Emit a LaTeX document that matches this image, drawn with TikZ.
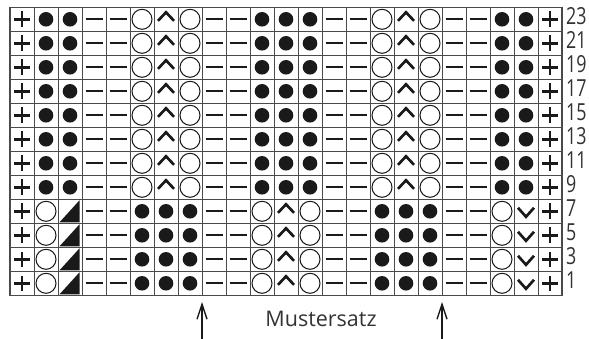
\documentclass[tikz,border=0pt]{standalone}
\usepackage{fontspec}
\setmainfont{Open Sans}
\usetikzlibrary{arrows.meta}
\definecolor{gridgray}{HTML}{4A4A4A}
\definecolor{inkblack}{HTML}{1A1A1A}
\definecolor{txtgray}{HTML}{333333}
\tikzset{
  gridline/.style={draw=gridgray, line width=1pt},
  borderline/.style={draw=gridgray, line width=1.2pt},
  symthick/.style={draw=inkblack, line width=2.7pt},
  symthin/.style={draw=inkblack, line width=1pt},
  symfill/.style={fill=inkblack},
  numlabel/.style={text=txtgray, font=\fontsize{23.5}{24}\selectfont, inner sep=0pt, anchor=base west},
  repeatlabel/.style={text=txtgray, font=\fontsize{21.5}{22}\selectfont, inner sep=0pt, anchor=base},
  repeatarrow/.style={draw=inkblack, line width=1.6pt, -{Straight Barb[length=15pt,width=10pt,line width=1.4pt]}}
}
% symbol macros, drawn in a scope shifted to the cell centre
\newcommand\symP{\draw[symthick] (-7.8,0)--(7.8,0) (0,-7.8)--(0,7.8);}
\newcommand\symF{\fill[symfill] (0,0) circle (7.3);}
\newcommand\symO{\draw[symthin] (0,0) circle (10);}
\newcommand\symD{\draw[symthick] (-8.5,-0.3)--(8.5,-0.3);}
\newcommand\symA{\draw[symthick, line join=miter] (-8,1.5)--(0,-7)--(8,1.5);}
\newcommand\symV{\draw[symthick, line join=miter] (-8,-3.5)--(0,5.5)--(8,-3.5);}
\newcommand\symT{\fill[symfill] (-10.5,11)--(9.5,11)--(9.5,-11)--cycle;}
\begin{document}
\begin{tikzpicture}[x=1pt,y=-1pt]
\useasboundingbox (0,0) rectangle (589,339);
% symbols
\foreach \rowsyms [count=\r] in {
  {P,F,F,D,D,O,A,O,D,D,F,F,F,D,D,O,A,O,D,D,F,F,P},
  {P,F,F,D,D,O,A,O,D,D,F,F,F,D,D,O,A,O,D,D,F,F,P},
  {P,F,F,D,D,O,A,O,D,D,F,F,F,D,D,O,A,O,D,D,F,F,P},
  {P,F,F,D,D,O,A,O,D,D,F,F,F,D,D,O,A,O,D,D,F,F,P},
  {P,F,F,D,D,O,A,O,D,D,F,F,F,D,D,O,A,O,D,D,F,F,P},
  {P,F,F,D,D,O,A,O,D,D,F,F,F,D,D,O,A,O,D,D,F,F,P},
  {P,F,F,D,D,O,A,O,D,D,F,F,F,D,D,O,A,O,D,D,F,F,P},
  {P,F,F,D,D,O,A,O,D,D,F,F,F,D,D,O,A,O,D,D,F,F,P},
  {P,O,T,D,D,F,F,F,D,D,O,A,O,D,D,F,F,F,D,D,O,V,P},
  {P,O,T,D,D,F,F,F,D,D,O,A,O,D,D,F,F,F,D,D,O,V,P},
  {P,O,T,D,D,F,F,F,D,D,O,A,O,D,D,F,F,F,D,D,O,V,P},
  {P,O,T,D,D,F,F,F,D,D,O,A,O,D,D,F,F,F,D,D,O,V,P}} {
  \foreach \s [count=\c] in \rowsyms {
    \begin{scope}[shift={({10+24*(\c-0.5)},{7.3+24*(\r-0.5)})}]
      \csname sym\s\endcsname
    \end{scope}
  }
}
% grid
\foreach \i in {1,...,22} \draw[gridline] ({10+24*\i},7.3) -- ({10+24*\i},295.3);
\foreach \j in {1,...,11} \draw[gridline] (10,{7.3+24*\j}) -- (562,{7.3+24*\j});
\draw[borderline] (10,7.3) rectangle (562,295.3);
% row numbers
\foreach \lab [count=\r] in {23,21,19,17,15,13,11,9,7,5,3,1} {
  \node[numlabel] (n\lab) at (566,{7.3+24*(\r-0.5)+5.4}) {\scalebox{0.76}[1]{\lab}};
}
% pattern repeat
\coordinate (a1s) at (202,339);
\coordinate (a1e) at (202,302);
\coordinate (a2s) at (442,339);
\coordinate (a2e) at (442,302);
\draw[repeatarrow] (a1s) -- (a1e);
\draw[repeatarrow] (a2s) -- (a2e);
\node[repeatlabel] (rep) at (321,326.7) {Mustersatz};
\end{tikzpicture}
\end{document}
